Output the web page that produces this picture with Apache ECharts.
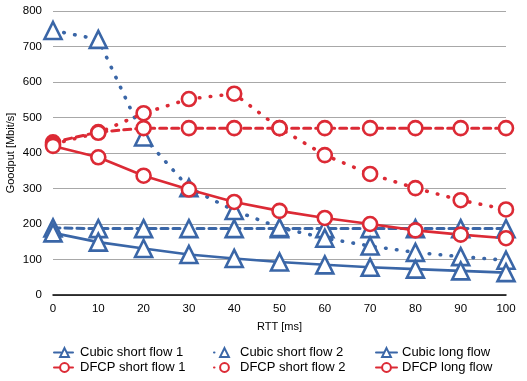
<!DOCTYPE html>
<html><head><meta charset="utf-8">
<script src="https://cdn.jsdelivr.net/npm/echarts@6/dist/echarts.min.js"></script>
<style>html,body{margin:0;padding:0;background:#fff}#c{width:527px;height:381px}</style>
</head><body><div id="c"></div>
<script>
const categories = ['0','10','20','30','40','50','60','70','80','90','100'];
const yTicks = [0,100,200,300,400,500,600,700,800];
const cubicShort1 = [189,187,187,187,187,187,187,187,187,187,187];
const cubicShort2 = [745,720,445,302,238,190,160,138,120,108,98];
const cubicLong = [175,149,131,114,103,93,85,78,73,68,63];
const dfcpShort1 = [430,459,470,470,470,470,470,470,470,470,470];
const dfcpShort2 = [425,457,512,552,567,470,394,341,301,267,241];
const dfcpLong = [420,388,336,297,262,237,217,200,182,170,160];
const seriesNames = ['Cubic short flow 1','Cubic short flow 2','Cubic long flow','DFCP short flow 1','DFCP short flow 2','DFCP long flow'];

const BLUE = '#3a66a7', RED = '#dc2a35';
const FONT = 'Liberation Sans, Arial, sans-serif';
const dashed = [7,5], dotted = [0.5,10.5];

function mk(name, data, color, sym, type, sz) {
  return {
    name, type: 'line', data, symbol: sym, symbolSize: sz,
    itemStyle: { color: '#fff', borderColor: color, borderWidth: 2.6 },
    lineStyle: { color, width: type === 'solid' ? 2.6 : (type === dotted ? 3.6 : 3), type, cap: 'round' },
    emphasis: { disabled: true }, z: 3
  };
}

const series = [
  mk(seriesNames[0], cubicShort1, BLUE, 'triangle', dashed, 17),
  mk(seriesNames[1], cubicShort2, BLUE, 'triangle', dotted, 17),
  mk(seriesNames[2], cubicLong, BLUE, 'triangle', 'solid', 17),
  mk(seriesNames[3], dfcpShort1, RED, 'circle', dashed, 14),
  mk(seriesNames[4], dfcpShort2, RED, 'circle', dotted, 14),
  mk(seriesNames[5], dfcpLong, RED, 'circle', 'solid', 14)
];

const legPos = [[48,341],[208,341],[370,341],[48,356],[208,356],[370,356]];
const legends = seriesNames.map((n,i) => ({
  data: [n], left: legPos[i][0], top: legPos[i][1], itemWidth: 21, itemHeight: 11, itemGap: 4,
  textStyle: { fontFamily: FONT, fontSize: 13, color: '#000', padding: [0,0,0,0] }, selectedMode: false
}));

const chart = echarts.init(document.getElementById('c'));
chart.setOption({
  animation: false,
  backgroundColor: '#fff',
  grid: { left: 53, right: 21, top: 11, bottom: 86, containLabel: false, outerBoundsMode: 'none' },
  legend: legends,
  xAxis: {
    type: 'category', data: categories, boundaryGap: false,
    name: 'RTT [ms]', nameLocation: 'middle', nameGap: 26, nameMoveOverlap: false,
    nameTextStyle: { fontFamily: FONT, fontSize: 11, color: '#000' },
    axisLine: { lineStyle: { color: '#000', width: 1.5 } },
    axisTick: { show: false },
    axisLabel: { fontFamily: FONT, fontSize: 11.5, color: '#000', margin: 8 }
  },
  yAxis: {
    type: 'value', min: yTicks[0], max: yTicks[yTicks.length-1], interval: 100,
    name: 'Goodput [Mbit/s]', nameLocation: 'middle', nameGap: 37, nameMoveOverlap: false,
    nameTextStyle: { fontFamily: FONT, fontSize: 11, color: '#000' },
    axisLine: { show: false }, axisTick: { show: false },
    axisLabel: { fontFamily: FONT, fontSize: 11.5, color: '#000', margin: 11 },
    splitLine: { lineStyle: { color: '#a8a8a8', width: 1 } }
  },
  series
});
</script></body></html>
